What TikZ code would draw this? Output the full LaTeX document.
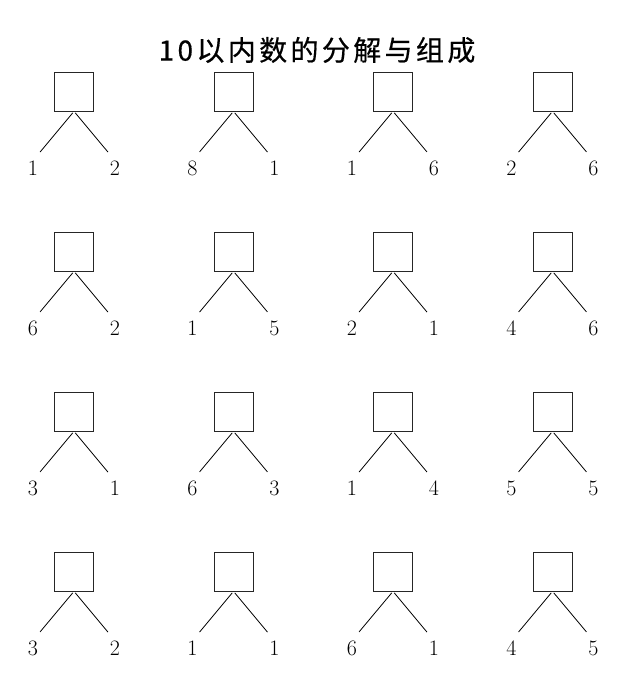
\documentclass[tikz,border=0pt]{standalone}
\usepackage{fontspec}
\newfontfamily\cjkfont[LetterSpace=12,FakeBold=0.5]{Noto Sans CJK SC}
\newcommand\partsize{\fontsize{22}{26}\selectfont}

\begin{document}
\begin{tikzpicture}[x=1pt, y=1pt]
    \tikzstyle{sum box} = [draw=black!85, line width=0.7pt, minimum size=39pt, inner sep=0pt]
    \tikzstyle{part number} = [inner sep=0pt, font=\partsize]
    \tikzstyle{split edge} = [draw=black, line width=0.8pt, shorten <=2pt, shorten >=11pt]
\useasboundingbox (0,0) rectangle (643,685);
\node[font=\cjkfont\fontsize{28}{32}\selectfont] (title) at (317,635) {10以内数的分解与组成};
\foreach \row/\col/\l/\r in {0/0/1/2, 0/1/8/1, 0/2/1/6, 0/3/2/6,
                              1/0/6/2, 1/1/1/5, 1/2/2/1, 1/3/4/6,
                              2/0/3/1, 2/1/6/3, 2/2/1/4, 2/3/5/5,
                              3/0/3/2, 3/1/1/1, 3/2/6/1, 3/3/4/5} {
    \node[sum box] (box\row\col) at ({74+159.5*\col}, {593.5-160*\row}) {};
    \node[part number] (left\row\col) at ({33+159.5*\col}, {517-160*\row}) {\l};
    \node[part number] (right\row\col) at ({115+159.5*\col}, {517-160*\row}) {\r};
    \draw[split edge] (box\row\col.south) to (left\row\col.north);
    \draw[split edge] (box\row\col.south) to (right\row\col.north);
}
\end{tikzpicture}
\end{document}
